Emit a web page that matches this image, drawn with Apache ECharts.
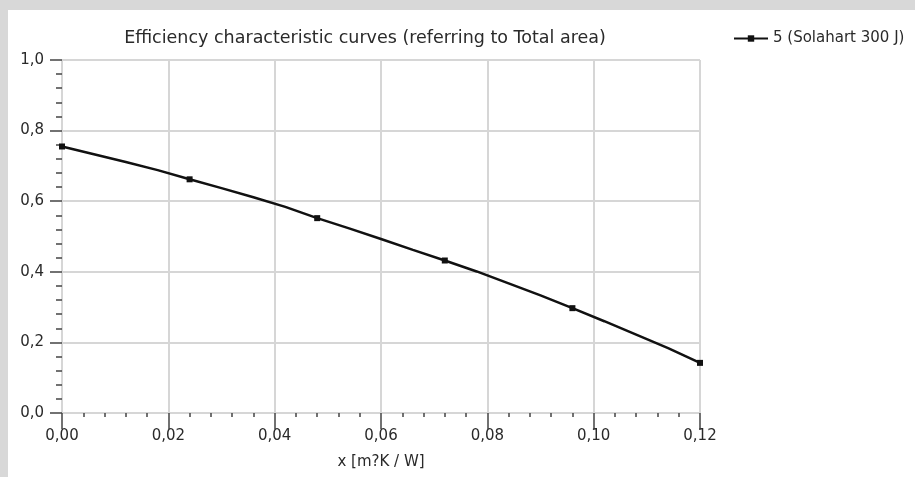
<!DOCTYPE html>
<html>
<head>
<meta charset="utf-8">
<script src="https://cdn.jsdelivr.net/npm/echarts@6/dist/echarts.min.js"></script>
<style>
  html, body { margin: 0; padding: 0; background: #d8d8d8; }
  #main { position: absolute; left: 8px; top: 10px; width: 907px; height: 467px; background: #ffffff; }
</style>
</head>
<body>
<div id="main"></div>
<script>
// Werte
const xValues = [0, 0.006, 0.012, 0.018, 0.024, 0.030, 0.036, 0.042, 0.048, 0.054, 0.060,
                 0.066, 0.072, 0.078, 0.084, 0.090, 0.096, 0.102, 0.108, 0.114, 0.120];
const yValues = [0.755, 0.733, 0.711, 0.688, 0.662, 0.637, 0.611, 0.584, 0.552, 0.523, 0.493,
                 0.462, 0.432, 0.401, 0.367, 0.333, 0.297, 0.260, 0.222, 0.184, 0.142];
const markedX = [0, 0.024, 0.048, 0.072, 0.096, 0.120];
const seriesName = '5 (Solahart 300 J)';
const chartTitle = 'Efficiency characteristic curves (referring to Total area)';
const xAxisName = 'x [m?K / W]';

const font = 'DejaVu Sans, Liberation Sans, sans-serif';
const textColor = '#2a2a2a';
const gridColor = '#d6d6d6';
const tickColor = '#444444';

const chart = echarts.init(document.getElementById('main'));

const points = xValues.map(function (x, i) {
  const marked = markedX.some(function (m) { return Math.abs(m - x) < 1e-9; });
  return marked ? { value: [x, yValues[i]] } : { value: [x, yValues[i]], symbol: 'none' };
});

chart.setOption({
  animation: false,
  backgroundColor: '#ffffff',
  textStyle: { fontFamily: font },
  title: {
    text: chartTitle,
    left: 352,
    top: 14,
    textAlign: 'center',
    textStyle: { fontFamily: font, fontSize: 17.5, fontWeight: 'normal', color: textColor }
  },
  legend: {
    left: 720,
    top: 16,
    itemWidth: 34,
    itemHeight: 8,
    itemGap: 5,
    textStyle: { fontFamily: font, fontSize: 15, color: textColor },
    data: [seriesName]
  },
  grid: { left: 54, right: 215, top: 50, bottom: 64 },
  xAxis: {
    type: 'value',
    min: 0,
    max: 0.12,
    interval: 0.02,
    offset: 6,
    name: xAxisName,
    nameLocation: 'middle',
    nameGap: 36,
    nameTextStyle: { fontFamily: font, fontSize: 15, color: textColor },
    axisLine: { show: false },
    axisTick: { show: true, length: 16, lineStyle: { color: tickColor, width: 1.5 } },
    minorTick: { show: true, splitNumber: 5, length: 4, lineStyle: { color: tickColor, width: 1.5 } },
    axisLabel: {
      margin: 10,
      fontFamily: font,
      fontSize: 15,
      color: textColor,
      formatter: function (v) { return v.toFixed(2).replace('.', ','); }
    },
    splitLine: { show: true, lineStyle: { color: gridColor, width: 2 } }
  },
  yAxis: {
    type: 'value',
    min: 0,
    max: 1,
    interval: 0.2,
    offset: 5,
    axisLine: { show: false },
    axisTick: { show: true, length: 12, lineStyle: { color: tickColor, width: 1.5 } },
    minorTick: { show: true, splitNumber: 5, length: 6, lineStyle: { color: tickColor, width: 1.5 } },
    axisLabel: {
      margin: 13,
      fontFamily: font,
      fontSize: 15,
      color: textColor,
      formatter: function (v) { return v.toFixed(1).replace('.', ','); }
    },
    splitLine: { show: true, lineStyle: { color: gridColor, width: 2 } }
  },
  series: [{
    name: seriesName,
    type: 'line',
    data: points,
    showAllSymbol: true,
    symbol: 'rect',
    symbolSize: 6,
    itemStyle: { color: '#111111' },
    lineStyle: { color: '#111111', width: 2.5 }
  }]
});
</script>
</body>
</html>
